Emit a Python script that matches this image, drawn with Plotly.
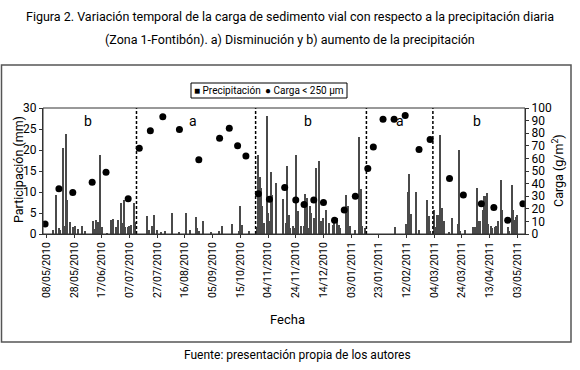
import pandas as pd
import plotly.graph_objects as go

# ---------------- data ----------------
# Excel-like category axis: daily dates with a gap (15/09/2010 - 04/10/2010 absent)
seg1 = pd.date_range("2010-05-06", "2010-09-14", freq="D")
seg2 = pd.date_range("2010-10-05", "2011-05-08", freq="D")
categories = [d.strftime("%d/%m/%Y") for d in list(seg1) + list(seg2)]

tick_labels = ["08/05/2010", "28/05/2010", "17/06/2010", "07/07/2010", "27/07/2010",
               "16/08/2010", "05/09/2010", "15/10/2010", "04/11/2010", "24/11/2010",
               "14/12/2010", "03/01/2011", "23/01/2011", "12/02/2011", "04/03/2011",
               "24/03/2011", "13/04/2011", "03/05/2011"]

precip_dates = [
    "13/05/2010", "15/05/2010", "17/05/2010", "18/05/2010", "20/05/2010", "21/05/2010",
    "22/05/2010", "23/05/2010", "25/05/2010", "27/05/2010", "29/05/2010", "31/05/2010",
    "03/06/2010", "05/06/2010", "11/06/2010", "12/06/2010", "13/06/2010", "14/06/2010",
    "15/06/2010", "16/06/2010", "17/06/2010", "21/06/2010", "24/06/2010", "25/06/2010",
    "27/06/2010", "29/06/2010", "01/07/2010", "02/07/2010", "03/07/2010", "04/07/2010",
    "06/07/2010", "07/07/2010", "08/07/2010", "10/07/2010", "11/07/2010", "12/07/2010",
    "20/07/2010", "21/07/2010", "23/07/2010", "25/07/2010", "27/07/2010", "30/07/2010",
    "02/08/2010", "07/08/2010", "12/08/2010", "17/08/2010", "20/08/2010", "24/08/2010",
    "25/08/2010", "26/08/2010", "29/08/2010", "04/09/2010", "10/09/2010", "12/09/2010",
    "09/10/2010", "14/10/2010", "15/10/2010", "16/10/2010", "21/10/2010", "27/10/2010",
    "28/10/2010", "29/10/2010", "30/10/2010", "31/10/2010", "01/11/2010", "03/11/2010",
    "04/11/2010", "05/11/2010", "06/11/2010", "07/11/2010", "10/11/2010", "15/11/2010",
    "17/11/2010", "18/11/2010", "19/11/2010", "20/11/2010", "22/11/2010", "23/11/2010",
    "24/11/2010", "25/11/2010", "26/11/2010", "28/11/2010", "30/11/2010", "01/12/2010",
    "02/12/2010", "03/12/2010", "04/12/2010", "05/12/2010", "07/12/2010", "08/12/2010",
    "09/12/2010", "11/12/2010", "12/12/2010", "14/12/2010", "16/12/2010", "18/12/2010",
    "21/12/2010", "22/12/2010", "24/12/2010", "25/12/2010", "26/12/2010", "30/12/2010",
    "01/01/2011", "02/01/2011", "06/01/2011", "09/01/2011", "10/01/2011", "11/01/2011",
    "13/01/2011", "04/02/2011", "12/02/2011", "13/02/2011", "14/02/2011", "15/02/2011",
    "19/02/2011", "21/02/2011", "27/02/2011", "28/02/2011", "01/03/2011", "04/03/2011",
    "05/03/2011", "06/03/2011", "07/03/2011", "08/03/2011", "09/03/2011", "10/03/2011",
    "11/03/2011", "15/03/2011", "17/03/2011", "21/03/2011", "22/03/2011", "23/03/2011",
    "26/03/2011", "01/04/2011", "02/04/2011", "03/04/2011", "04/04/2011", "05/04/2011",
    "06/04/2011", "08/04/2011", "09/04/2011", "10/04/2011", "11/04/2011", "12/04/2011",
    "14/04/2011", "15/04/2011", "17/04/2011", "18/04/2011", "19/04/2011", "21/04/2011",
    "22/04/2011", "26/04/2011", "27/04/2011", "29/04/2011", "30/04/2011", "01/05/2011",
    "02/05/2011", "03/05/2011"]
precip_mm = [
    1.0, 9.4, 1.4, 1.0, 20.5, 1.8,
    23.8, 8.2, 2.9, 1.6, 2.0, 1.2,
    1.8, 0.6, 3.2, 1.2, 3.4, 2.8,
    2.0, 18.9, 1.6, 0.2, 3.3, 3.6,
    1.6, 3.4, 7.4, 2.6, 8.2, 1.6,
    1.6, 2.0, 2.2, 7.4, 2.8, 0.6,
    4.4, 1.0, 1.8, 4.6, 1.0, 0.4,
    0.6, 5.0, 0.4, 5.0, 1.0, 4.0,
    1.4, 0.6, 3.2, 0.4, 0.6, 2.0,
    2.4, 0.6, 6.7, 2.2, 0.6, 1.6,
    18.7, 13.5, 11.0, 6.6, 2.6, 28.0,
    5.0, 3.0, 14.8, 9.4, 12.1, 8.4,
    2.6, 16.1, 4.6, 1.4, 1.8, 1.4,
    18.7, 3.8, 5.4, 1.8, 1.8, 9.5,
    8.6, 1.4, 6.6, 5.0, 3.8, 1.4,
    15.7, 17.5, 3.0, 3.8, 5.6, 2.6,
    2.2, 3.4, 3.8, 2.2, 1.4, 9.4,
    6.7, 1.8, 1.0, 23.1, 10.6, 1.8,
    1.4, 1.6, 2.4, 10.0, 14.3, 4.8,
    10.0, 1.0, 8.1, 4.4, 0.8, 5.8,
    1.6, 4.6, 4.6, 23.5, 5.6, 6.2,
    3.2, 0.5, 3.7, 2.4, 20.1, 0.6,
    1.0, 1.6, 1.6, 1.6, 11.0, 3.2,
    3.2, 5.8, 9.1, 9.0, 9.8, 2.4,
    2.0, 1.4, 1.6, 2.0, 3.2, 12.9,
    5.6, 1.6, 0.8, 11.6, 5.8, 3.4,
    4.0, 4.6]

carga_dates = [
    "07/05/2010", "17/05/2010", "27/05/2010", "10/06/2010", "20/06/2010", "06/07/2010",
    "14/07/2010", "22/07/2010", "31/07/2010", "12/08/2010", "26/08/2010", "10/09/2010",
    "07/10/2010", "13/10/2010", "19/10/2010", "28/10/2010", "05/11/2010", "16/11/2010",
    "24/11/2010", "30/11/2010", "07/12/2010", "14/12/2010", "22/12/2010", "29/12/2010",
    "06/01/2011", "15/01/2011", "19/01/2011", "26/01/2011", "03/02/2011", "11/02/2011",
    "21/02/2011", "01/03/2011", "15/03/2011", "25/03/2011", "07/04/2011", "16/04/2011",
    "26/04/2011", "07/05/2011"]
carga_gm2 = [
    8, 36, 33, 41, 49, 28,
    68, 82, 93, 83, 59, 76,
    84, 70, 62, 32, 27.5, 37,
    27, 23.5, 27, 25, 11, 19,
    30, 52, 69, 91, 91, 94,
    67, 75, 44, 31, 24, 21,
    11, 24]

period_breaks = ["12/07/2010", "26/10/2010", "14/01/2011", "03/03/2011"]
period_label_dates = ["07/06/2010", "22/08/2010", "03/12/2010", "07/02/2011", "04/04/2011"]
period_labels = ["b", "a", "b", "a", "b"]

# ---------------- figure ----------------
FONT = "Roboto, Liberation Sans, sans-serif"
L, R, T, B = 43, 55, 108, 136
W, H = 580, 370
pw, ph = W - L - R, H - T - B

def px(x):
    return (x - L) / pw

def py(y):
    return (H - B - y) / ph

fig = go.Figure()
fig.add_trace(go.Bar(x=precip_dates, y=precip_mm, name="Precipitación",
                     marker=dict(color="#4a4a4a", line=dict(width=0)),
                     width=0.9, showlegend=False))
fig.add_trace(go.Scatter(x=carga_dates, y=carga_gm2, name="Carga < 250 µm",
                         mode="markers", yaxis="y2", showlegend=False,
                         marker=dict(color="black", size=7, symbol="circle")))

shapes = []
for d in period_breaks:
    shapes.append(dict(type="line", xref="x", yref="paper", x0=d, x1=d, y0=0, y1=1,
                       line=dict(color="black", width=1.5, dash="3px,2px")))
# outer frame
shapes.append(dict(type="rect", xref="paper", yref="paper",
                   x0=px(1.5), x1=px(571), y0=py(65), y1=py(342),
                   line=dict(color="#555555", width=1.5), layer="below"))
# plot-area box
shapes.append(dict(type="rect", xref="paper", yref="paper", x0=0, x1=1, y0=0, y1=1,
                   line=dict(color="#333333", width=1)))
# legend box
shapes.append(dict(type="rect", xref="paper", yref="paper",
                   x0=px(191), x1=px(347), y0=py(83), y1=py(98),
                   line=dict(color="black", width=1), fillcolor="white"))

def ann(x, y, text, size, xanchor="center", angle=0, xref="paper", yref="paper"):
    return dict(x=x, y=y, xref=xref, yref=yref, text=text, showarrow=False,
                xanchor=xanchor, yanchor="middle", textangle=angle, borderpad=0,
                font=dict(family=FONT, size=size, color="black"))

annotations = []
for d, t in zip(period_label_dates, period_labels):
    annotations.append(ann(d, 27, t, 14, xref="x", yref="y"))
annotations += [
    ann(px(193), py(90.5), "■ Precipitación", 10, xanchor="left"),
    ann(px(264), py(90.5), "● Carga &lt; 250 µm", 10, xanchor="left"),
    ann(px(290), py(17),
        "Figura 2. Variación temporal de la carga de sedimento vial con respecto a la precipitación diaria", 12.5),
    ann(px(290), py(40),
        "(Zona 1-Fontibón). a) Disminución y b) aumento de la precipitación", 12.5),
    ann(px(18), py(170), "Participación (mm)", 12.5, angle=-90),
    ann(px(558), py(171), "Carga (g/m<sup>2</sup>)", 12.5, angle=-90),
    ann(px(287), py(319), "Fecha", 13),
    ann(px(297), py(355), "Fuente: presentación propia de los autores", 12),
]

fig.update_layout(
    width=W, height=H,
    margin=dict(l=L, r=R, t=T, b=B, pad=0),
    paper_bgcolor="white", plot_bgcolor="white",
    font=dict(family=FONT, size=12, color="black"),
    bargap=0, showlegend=False,
    xaxis=dict(type="category", categoryorder="array", categoryarray=categories,
               range=[-0.5, len(categories) - 0.5],
               tickmode="array", tickvals=tick_labels, ticktext=tick_labels,
               tickangle=-90, ticks="outside", ticklen=3, tickcolor="#333",
               showline=True, linecolor="#333", linewidth=1, showgrid=False,
               tickfont=dict(family=FONT, size=10.5), zeroline=False),
    yaxis=dict(range=[0, 30], dtick=5, ticks="outside", ticklen=3, tickcolor="#333",
               showline=True, linecolor="#333", showgrid=False, zeroline=False,
               tickfont=dict(family=FONT, size=12)),
    yaxis2=dict(range=[0, 100], dtick=10, overlaying="y", side="right",
                ticks="outside", ticklen=3, tickcolor="#333",
                showline=True, linecolor="#333", showgrid=False, zeroline=False,
                tickfont=dict(family=FONT, size=12)),
    shapes=shapes, annotations=annotations,
)

fig.write_html("out.html", config={"displayModeBar": False},
               post_script="document.body.style.margin='0';document.body.style.overflow='hidden';")
